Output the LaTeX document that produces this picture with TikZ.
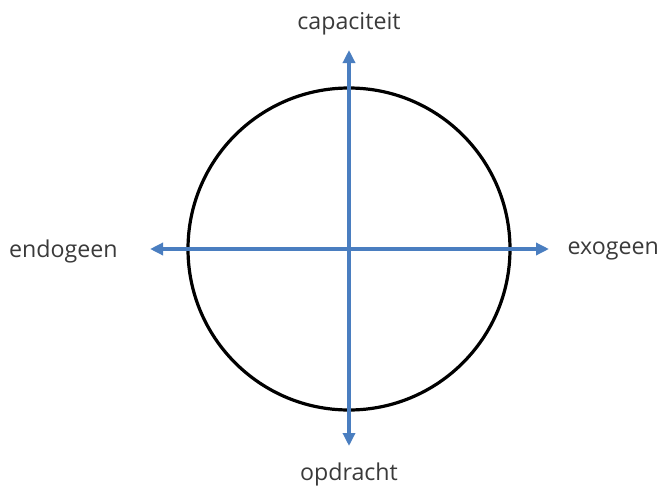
\documentclass[tikz,border=0pt]{standalone}
\usepackage{fontspec}
\setmainfont{Open Sans}
\usetikzlibrary{arrows.meta}
\definecolor{axisblue}{HTML}{4A7EC0}
\definecolor{labelgray}{HTML}{3A3A3A}
\tikzset{
  axis/.style={draw=axisblue, line width=3.6pt, -{Triangle[length=13pt,width=12pt]}},
  lbl/.style={text=labelgray, font=\fontsize{23.2}{27}\selectfont, inner sep=0pt},
  ring/.style={draw=black, line width=3.2pt}
}
\begin{document}
\begin{tikzpicture}[x=1pt,y=-1pt]
\useasboundingbox (0,0) rectangle (660,487);
\coordinate (c) at (349,249);
\node[ring, circle, minimum size=322pt, inner sep=0pt] (circ) at (c) {};
\coordinate (top) at (349,50);
\coordinate (bot) at (349,446);
\coordinate (left) at (150,249);
\coordinate (right) at (549,249);
\draw[axis] (c) -- (top);
\draw[axis] (c) -- (bot);
\draw[axis] (c) -- (left);
\draw[axis] (c) -- (right);
\node[lbl] (cap) at (349,24) {capaciteit};
\node[lbl] (opd) at (349,474) {opdracht};
\node[lbl, anchor=west] (endo) at (9,251) {endogeen};
\node[lbl, anchor=east] (exo) at (659,251) {exogeen};
\end{tikzpicture}
\end{document}
